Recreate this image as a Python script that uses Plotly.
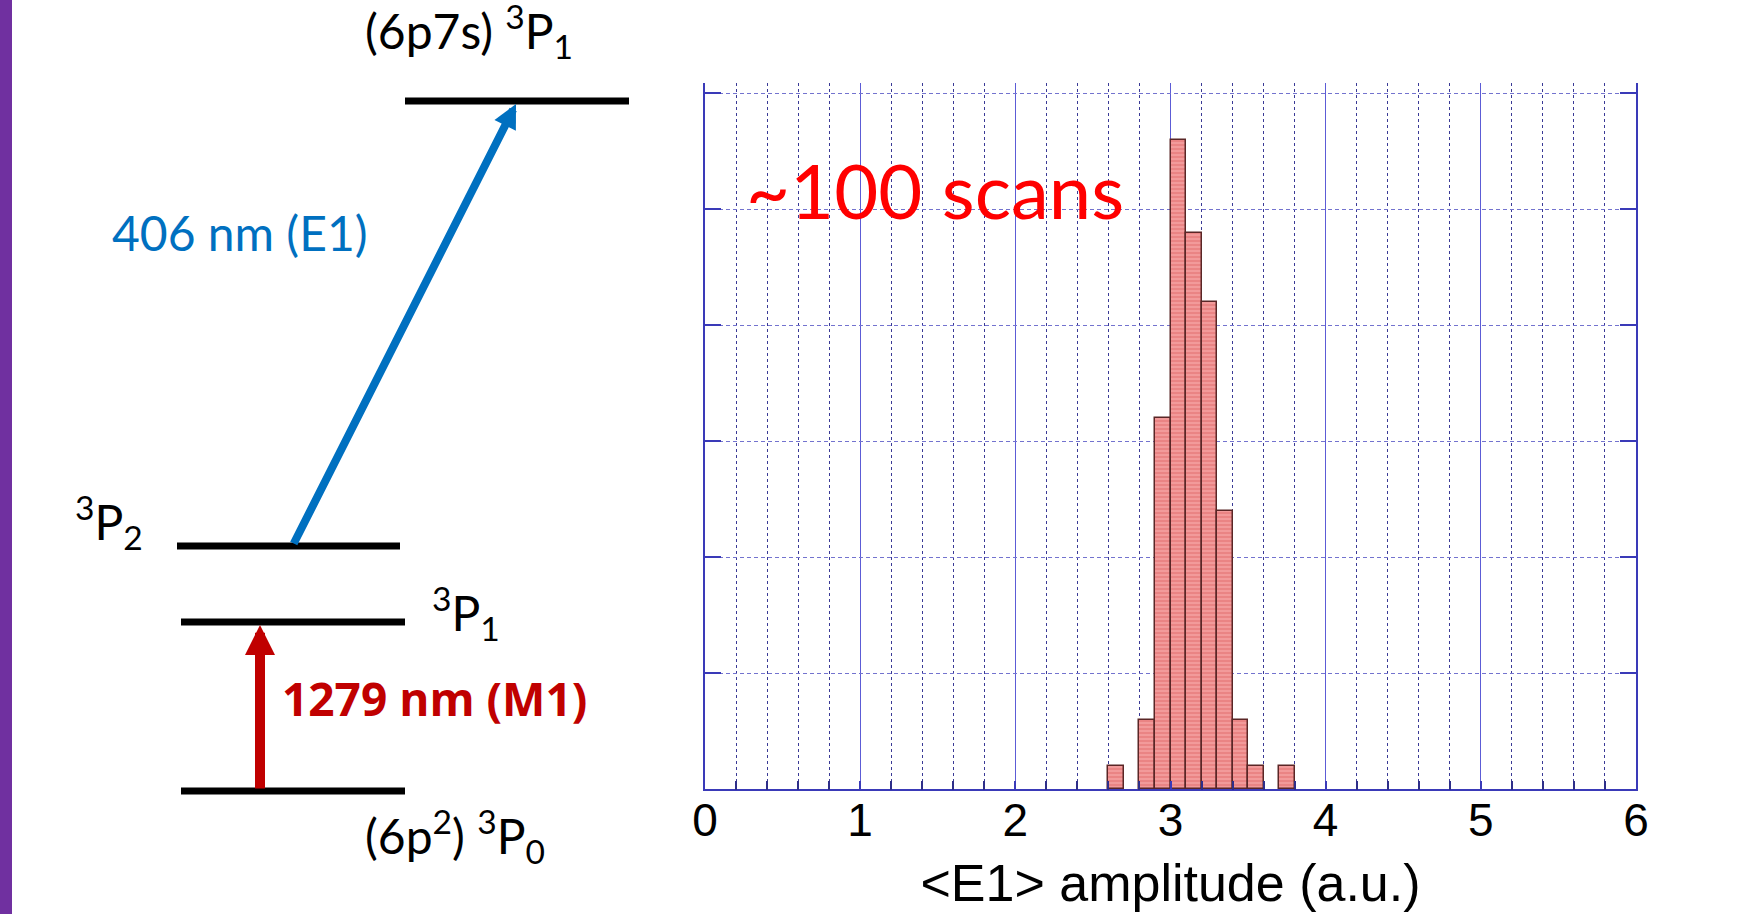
import plotly.graph_objects as go

# ---------------- data ----------------
# histogram of <E1> amplitude (bin width 0.1), left edges and counts
bin_left = [2.6, 2.8, 2.9, 3.0, 3.1, 3.2, 3.3, 3.4, 3.5, 3.7]
counts = [1, 3, 16, 28, 24, 21, 12, 3, 1, 1]
bin_width = 0.1
x_ticks = [0, 1, 2, 3, 4, 5, 6]
x_title = "&lt;E1&gt; amplitude (a.u.)"
note_text = "~100 scans"

# energy-level diagram labels
lbl_upper = "(6p7s) <sup>3</sup>P<sub>1</sub>"
lbl_p2 = "<sup>3</sup>P<sub>2</sub>"
lbl_p1 = "<sup>3</sup>P<sub>1</sub>"
lbl_ground = "(6p<sup>2</sup>) <sup>3</sup>P<sub>0</sub>"
lbl_e1 = "406 nm (E1)"
lbl_m1 = "<b>1279 nm (M1)</b>"

W, H = 1741, 914
BLUE = "#0070C0"
DRED = "#C00000"
AX = "#3a3ab8"

fig = go.Figure()

centers = [b + bin_width / 2 for b in bin_left]
fig.add_trace(go.Bar(
    x=centers, y=counts, width=bin_width,
    xaxis="x2", yaxis="y2",
    marker=dict(color="#f29a9a",
                line=dict(color="#5a2626", width=1.5),
                pattern=dict(shape="-", fgcolor="#d85c5c", size=4, solidity=0.35)),
    showlegend=False, hoverinfo="skip",
))

# diagram geometry (pixel frame on axis 3)
levels = [(405, 629, 101), (177, 400, 546), (181, 405, 622), (181, 405, 791)]
shapes = [dict(type="rect", xref="paper", yref="paper", x0=0, x1=12 / W, y0=0, y1=1,
               fillcolor="#7030A0", line=dict(width=0), layer="below")]
for x0, x1, y in levels:
    shapes.append(dict(type="line", xref="x3", yref="y3", x0=x0, x1=x1, y0=y, y1=y,
                       line=dict(color="black", width=7)))

annotations = [
    # blue E1 arrow
    dict(x=516, y=104, ax=293, ay=545, xref="x3", yref="y3", axref="x3", ayref="y3",
         text="", showarrow=True, arrowhead=2, arrowsize=0.6, arrowwidth=8, arrowcolor=BLUE),
    # red M1 arrow
    dict(x=260, y=625, ax=260, ay=790, xref="x3", yref="y3", axref="x3", ayref="y3",
         text="", showarrow=True, arrowhead=2, arrowsize=0.6, arrowwidth=10, arrowcolor=DRED),
]
TF = "Lato, 'Noto Sans', sans-serif"
BF = "'Open Sans', 'Noto Sans', 'DejaVu Sans', sans-serif"
for txt, x, y, col, size, fam in [
    (lbl_upper, 363, 31, "black", 48, TF),
    (lbl_e1, 110, 232, BLUE, 48, TF),
    (lbl_p2, 73, 522, "black", 48, TF),
    (lbl_p1, 430, 613, "black", 48, TF),
    (lbl_m1, 280, 698, DRED, 46, BF),
    (lbl_ground, 363, 836, "black", 48, TF),
    (note_text, 744, 189, "#FF0000", 76, TF),
]:
    annotations.append(dict(x=x, y=y, xref="x3", yref="y3", text=txt, showarrow=False,
                            xanchor="left", yanchor="middle",
                            font=dict(family=fam, size=size, color=col)))

x_dom = [705 / W, 1636 / W]
y_dom = [1 - 789.3 / H, 1 - 83 / H]

fig.update_layout(
    width=W, height=H, margin=dict(l=0, r=0, t=0, b=0, autoexpand=False),
    paper_bgcolor="white", plot_bgcolor="rgba(0,0,0,0)",
    bargap=0,
    shapes=shapes, annotations=annotations,
    xaxis3=dict(domain=[0, 1], range=[0, W], visible=False, fixedrange=True, anchor="y3"),
    yaxis3=dict(domain=[0, 1], range=[H, 0], visible=False, fixedrange=True, anchor="x3"),
    xaxis2=dict(
        domain=x_dom, anchor="y2", range=[0, 6],
        tickvals=x_ticks, ticktext=[str(v) for v in x_ticks],
        ticks="inside", ticklen=9, tickcolor=AX, tickwidth=1.5,
        showline=True, linecolor=AX, linewidth=1.5,
        showgrid=True, gridcolor="#5c5cd6", gridwidth=1.2,
        minor=dict(dtick=0.2, tick0=0, ticks="inside", ticklen=9, tickcolor="#2e2e8a",
                   showgrid=True, gridcolor="#3a3a96", griddash="3px,3px", gridwidth=1.2),
        zeroline=False, automargin=False, ticklabelstandoff=-10,
        tickfont=dict(family="Arial, 'Liberation Sans', sans-serif", size=46, color="black"),
        title=dict(text=x_title, standoff=19,
                   font=dict(family="Arial, 'Liberation Sans', sans-serif", size=52, color="black")),
    ),
    yaxis2=dict(
        domain=y_dom, anchor="x2", range=[0, 30.45], dtick=5, tick0=0,
        showticklabels=False, ticks="inside", ticklen=16, tickcolor=AX, tickwidth=1.5,
        showline=True, linecolor=AX, linewidth=1.8, mirror="ticks",
        showgrid=True, gridcolor="#7373cf", griddash="4px,3px", gridwidth=1.3,
        zeroline=False, automargin=False,
    ),
)

fig.write_html("out.html")
